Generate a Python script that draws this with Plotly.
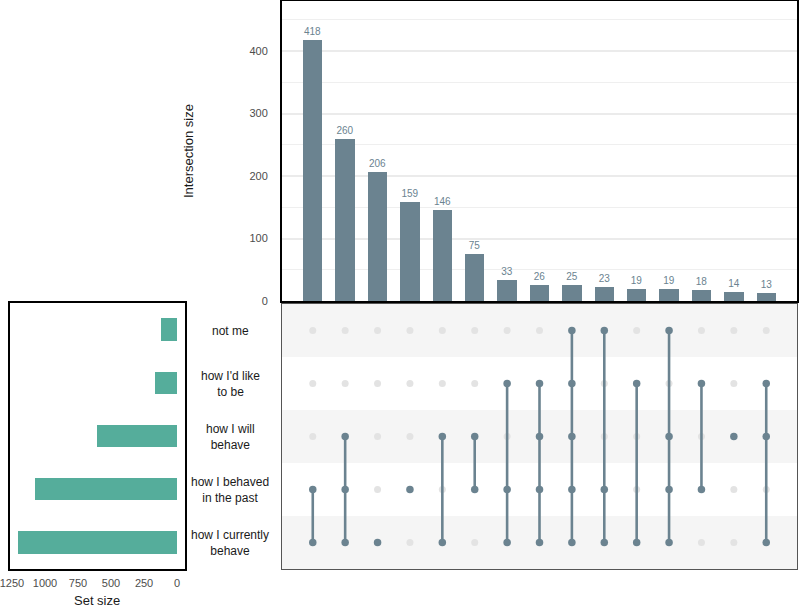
import plotly.graph_objects as go

# ---- data ----
set_names = ["how I currently<br>behave", "how I behaved<br>in the past", "how I will<br>behave",
             "how I'd like<br>to be", "not me"]          # bottom -> top
set_sizes = [1205, 1078, 610, 167, 118]

intersection_sizes = [418, 260, 206, 159, 146, 75, 33, 26, 25, 23, 19, 19, 18, 14, 13]
# membership per intersection column (indices into set_names)
memberships = [
    [0, 1], [0, 1, 2], [0], [1], [0, 2], [1, 2], [0, 1, 3], [0, 1, 2, 3],
    [0, 1, 2, 3, 4], [0, 1, 4], [0, 3], [0, 1, 2, 4], [1, 3], [2], [0, 2, 3],
]

set_size_ticks = [0, 250, 500, 750, 1000, 1250]
intersection_ticks = [0, 100, 200, 300, 400]

SLATE = "#6b8390"
TEAL = "#55ad9b"
W, H = 799, 609

def px(x):
    return x / W

def py(y):
    return 1 - y / H

ncol = len(intersection_sizes)
cols = list(range(ncol))

fig = go.Figure()

# top: intersection bars
fig.add_trace(go.Bar(
    x=cols, y=intersection_sizes, width=0.6, marker=dict(color=SLATE, line=dict(width=0)),
    text=[str(v) for v in intersection_sizes], textposition="outside",
    textfont=dict(color=SLATE, size=10, family="Liberation Sans, Arial"),
    cliponaxis=False, xaxis="x", yaxis="y", showlegend=False, hoverinfo="skip",
))

# matrix: inactive dots
ix, iy = [], []
for c, m in enumerate(memberships):
    for r in range(len(set_names)):
        if r not in m:
            ix.append(c)
            iy.append(r)
fig.add_trace(go.Scatter(
    x=ix, y=iy, mode="markers", marker=dict(color="#e3e3e3", size=7),
    xaxis="x2", yaxis="y2", showlegend=False, hoverinfo="skip",
))
# matrix: active lines + dots
for c, m in enumerate(memberships):
    fig.add_trace(go.Scatter(
        x=[c] * len(m), y=sorted(m), mode="lines+markers",
        line=dict(color=SLATE, width=2.6), marker=dict(color=SLATE, size=7.5),
        xaxis="x2", yaxis="y2", showlegend=False, hoverinfo="skip",
    ))

# left: set size bars
fig.add_trace(go.Bar(
    y=list(range(len(set_names))), x=set_sizes, orientation="h", width=0.42,
    marker=dict(color=TEAL, line=dict(width=0)),
    xaxis="x3", yaxis="y3", showlegend=False, hoverinfo="skip",
))

# stripes in matrix
shapes = []
for r in range(len(set_names)):
    if r % 2 == 0:
        shapes.append(dict(type="rect", xref="x2 domain", yref="y2", x0=0, x1=1,
                           y0=r - 0.5, y1=r + 0.5, fillcolor="#f5f5f5",
                           line=dict(width=0), layer="below"))

annotations = []
for r, name in enumerate(set_names):
    annotations.append(dict(x=px(230), xref="paper", y=r, yref="y2", text=name,
                            showarrow=False, font=dict(size=12, color="#1a1a1a"),
                            xanchor="center", yanchor="middle", align="center"))
annotations.append(dict(x=px(188), y=py(151), xref="paper", yref="paper",
                        text="Intersection size", textangle=-90, showarrow=False,
                        xanchor="center", yanchor="middle",
                        font=dict(size=13, color="#1a1a1a")))
annotations.append(dict(x=px(97), y=py(600), xref="paper", yref="paper",
                        text="Set size", showarrow=False,
                        xanchor="center", yanchor="middle",
                        font=dict(size=13, color="#1a1a1a")))

fig.update_layout(
    width=W, height=H, margin=dict(l=0, r=0, t=0, b=0, autoexpand=False),
    paper_bgcolor="white", plot_bgcolor="white",
    font=dict(family="Liberation Sans, Arial", size=11, color="#4d4d4d"),
    bargap=0,
    shapes=shapes, annotations=annotations,
    xaxis=dict(domain=[px(282), px(797)], range=[-0.95, 14.95], showticklabels=False,
               showgrid=False, zeroline=False, showline=True, linecolor="black",
               linewidth=2, mirror=True, anchor="y"),
    yaxis=dict(domain=[py(301), py(1)], range=[0, 480], tickvals=intersection_ticks,
               showgrid=True, gridcolor="#ebebeb", gridwidth=1.6, zeroline=False,
               minor=dict(dtick=50, tick0=0, showgrid=True, gridcolor="#efefef", gridwidth=0.8),
               showline=True, linecolor="black", linewidth=2, mirror=True,
               ticks="", ticklabelstandoff=10, anchor="x", ticklabeloverflow="allow",
               tickfont=dict(size=11, color="#4d4d4d")),
    xaxis2=dict(domain=[px(282), px(797)], range=[-0.95, 14.95], showticklabels=False,
                showgrid=False, zeroline=False, showline=True, linecolor="#555555",
                linewidth=1.2, mirror=True, anchor="y2"),
    yaxis2=dict(domain=[py(569), py(304)], range=[-0.5, 4.5], showticklabels=False,
                showgrid=False, zeroline=False, showline=True, linecolor="#555555",
                linewidth=1.2, mirror=True, anchor="x2"),
    xaxis3=dict(domain=[px(10), px(185)], range=[1265, -60],
                tickvals=set_size_ticks, showgrid=False, zeroline=False,
                showline=True, linecolor="black", linewidth=2, mirror=True, ticks="",
                ticklabelstandoff=3, anchor="y3", ticklabeloverflow="allow",
                tickfont=dict(size=11, color="#4d4d4d")),
    yaxis3=dict(domain=[py(569), py(303)], range=[-0.5, 4.5], showticklabels=False,
                showgrid=False, zeroline=False, showline=True, linecolor="black",
                linewidth=2, mirror=True, anchor="x3"),
)

fig.write_html("out.html", config={"displayModeBar": False},
               post_script="document.body.style.margin='0';")
